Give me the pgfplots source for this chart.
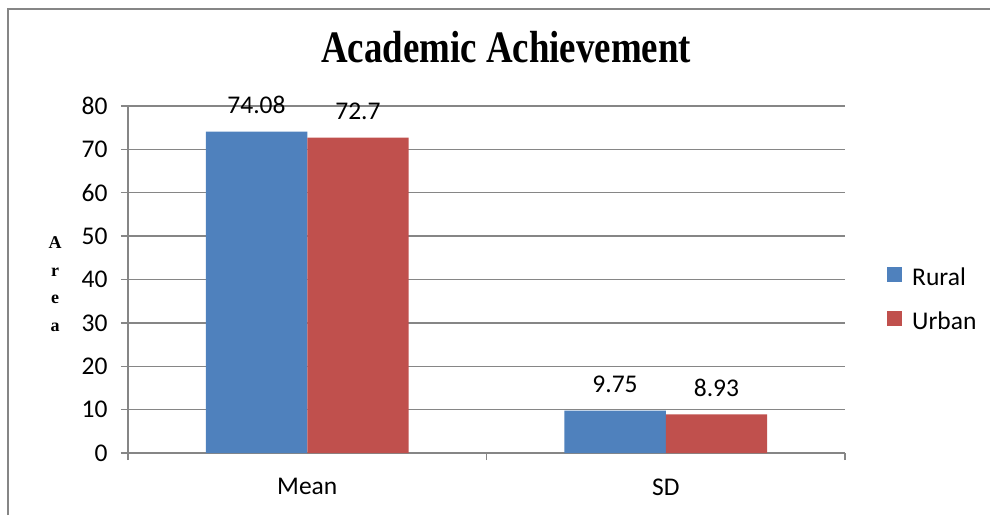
\documentclass[border=0pt]{standalone}
\usepackage{fontspec}
\setmainfont{Carlito}
\newfontfamily\tnr{Liberation Serif}
\usepackage{pgfplots}
\pgfplotsset{compat=1.18}
\definecolor{rural}{HTML}{4F81BD}
\definecolor{urban}{HTML}{C0504D}
\definecolor{gridg}{HTML}{868686}
\begin{document}
\begin{tikzpicture}[x=1pt,y=1pt]
\useasboundingbox (0,0) rectangle (990,515);
\draw[color=gridg, line width=2pt] (8,0) -- (8,506) -- (990,506);
\node[anchor=base, inner sep=0pt] at (506,452) {\scalebox{0.82}[1]{\tnr\bfseries\fontsize{45}{54}\selectfont Academic Achievement}};
\node[font=\tnr\bfseries\fontsize{18}{27.5}\selectfont, align=center, inner sep=0pt] at (55,231) {A\\r\\e\\a};
\begin{axis}[
  at={(128pt,62pt)}, anchor=south west,
  scale only axis, width=717pt, height=347pt,
  ybar, bar width=0.283,
  xmin=-0.5, xmax=1.5, ymin=0, ymax=80,
  ytick={0,10,...,80},
  xtick={-0.5,0.5,1.5}, xticklabels={},
  extra x ticks={0,1}, extra x tick labels={Mean,SD},
  extra x tick style={major tick length=0pt, grid=none},
  major tick length=7pt,
  tick align=outside,
  axis x line*=bottom, axis y line*=left,
  ymajorgrids,
  grid style={gridg, line width=1.3pt},
  axis line style={gridg, line width=1.3pt},
  tick style={gridg, line width=1.3pt},
  /pgf/number format/assume math mode=true,
  tick label style={font=\fontsize{25.5}{30}\selectfont, text=black},
  yticklabel style={xshift=-10pt},
  xticklabel style={yshift=-22pt},
  nodes near coords,
  every node near coord/.append style={font=\fontsize{25.5}{30}\selectfont, text=black, yshift=14pt},
  clip=false,
  legend style={at={(axis description cs:1.0586,0.442)}, anchor=west, draw=none, fill=none,
    inner sep=0pt, font=\fontsize{25.5}{30}\selectfont, row sep=21pt, /tikz/column sep=8pt,
    legend cell align=left},
  legend image code/.code={\fill[#1] (0pt,-4pt) rectangle (15pt,11pt);},
]
\addplot[fill=rural, draw=none, bar shift=-0.1415] coordinates {(0,74.08) (1,9.75)};
\addplot[fill=urban, draw=none, bar shift=0.1415] coordinates {(0,72.7) (1,8.93)};
\legend{Rural,Urban}
\end{axis}
\end{tikzpicture}
\end{document}
